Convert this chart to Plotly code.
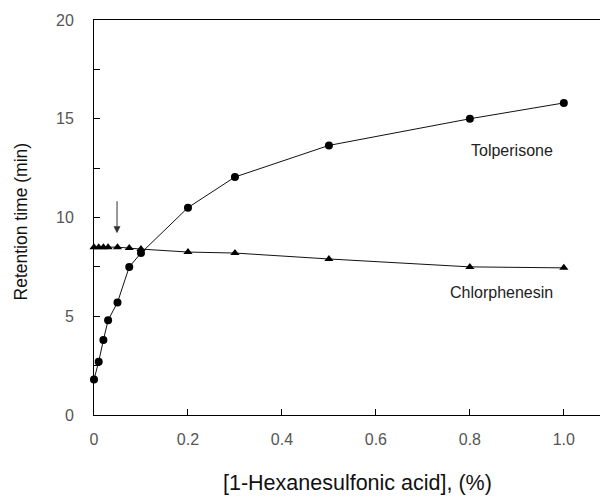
import plotly.graph_objects as go

conc = [0, 0.01, 0.02, 0.03, 0.05, 0.075, 0.1, 0.2, 0.3, 0.5, 0.8, 1.0]
tolperisone = [1.8, 2.7, 3.8, 4.8, 5.7, 7.5, 8.2, 10.5, 12.05, 13.65, 15.0, 15.8]
chlorphenesin = [8.5, 8.5, 8.5, 8.5, 8.5, 8.45, 8.4, 8.25, 8.2, 7.9, 7.5, 7.45]

x_ticks = [0, 0.2, 0.4, 0.6, 0.8, 1.0]
x_ticktext = ["0", "0.2", "0.4", "0.6", "0.8", "1.0"]
y_ticks = [0, 5, 10, 15, 20]

font = "Liberation Sans, Arial, sans-serif"

fig = go.Figure()
fig.add_trace(go.Scatter(x=conc, y=tolperisone, mode="lines+markers",
                         line=dict(color="#111", width=1),
                         marker=dict(symbol="circle", size=8, color="black"),
                         name="Tolperisone", cliponaxis=False))
fig.add_trace(go.Scatter(x=conc, y=chlorphenesin, mode="lines+markers",
                         line=dict(color="#111", width=1),
                         marker=dict(symbol="triangle-up", size=8, color="black"),
                         name="Chlorphenesin", cliponaxis=False))

fig.add_annotation(x=0.89, y=13.4, text="Tolperisone", showarrow=False,
                   font=dict(family=font, size=16, color="#222"))
fig.add_annotation(x=0.868, y=6.2, text="Chlorphenesin", showarrow=False,
                   font=dict(family=font, size=16, color="#222"))
fig.add_annotation(x=0.049, y=9.2, ax=0.049, ay=10.9, axref="x", ayref="y",
                   xref="x", yref="y", text="", showarrow=True,
                   arrowhead=2, arrowsize=1.4, arrowwidth=1, arrowcolor="#333")

# axis titles
fig.add_annotation(xref="paper", yref="paper", x=0.512, y=-0.172,
                   text="[1-Hexanesulfonic acid], (%)", showarrow=False,
                   xanchor="center", yanchor="middle",
                   font=dict(family=font, size=21.5, color="#111"))
fig.add_annotation(xref="paper", yref="paper", x=-0.142, y=0.49,
                   text="Retention time (min)", showarrow=False, textangle=-90,
                   xanchor="center", yanchor="middle",
                   font=dict(family=font, size=17.5, color="#111"))

# page body has an 8px margin, so the figure is drawn 8px smaller and offset
fig.update_layout(
    width=600, height=489,
    margin=dict(l=86, r=0, t=12, b=82, autoexpand=False),
    plot_bgcolor="white", paper_bgcolor="white",
    showlegend=False,
    font=dict(family=font),
    xaxis=dict(range=[0, 1.094], tickvals=x_ticks, ticktext=x_ticktext,
               ticks="inside", ticklen=6, tickcolor="black",
               showline=True, linecolor="black", linewidth=1, mirror=True,
               showgrid=False, zeroline=False, automargin=False,
               tickfont=dict(size=16, color="#555"), ticklabelstandoff=10),
    yaxis=dict(range=[0, 20], tickvals=y_ticks,
               ticks="inside", ticklen=6, tickcolor="black",
               minor=dict(dtick=2.5, ticks="inside", ticklen=6, tickcolor="black"),
               showline=True, linecolor="black", linewidth=1,
               showgrid=False, zeroline=False, automargin=False,
               tickfont=dict(size=16, color="#555"), ticklabelstandoff=16),
)

fig.write_html("out.html")
